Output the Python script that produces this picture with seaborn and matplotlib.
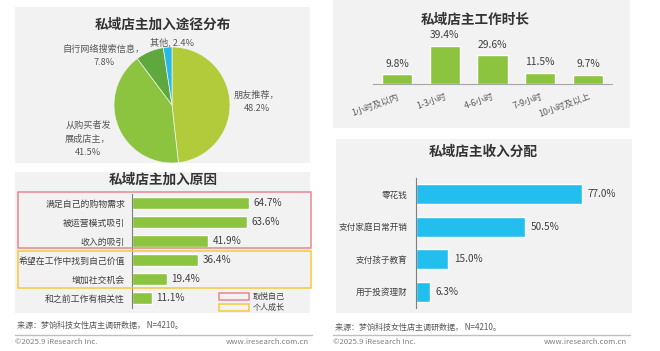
import numpy as np
import pandas as pd
import matplotlib
matplotlib.use("Agg")
import matplotlib.pyplot as plt
from matplotlib.patches import Rectangle
import seaborn as sns

# ---- data ----
channel_names = ["朋友推荐", "从购买者发展成店主", "自行网络搜索信息", "其他"]
channel_share = [48.2, 41.5, 7.8, 2.4]

reason_names = ["满足自己的购物需求", "被运营模式吸引", "收入的吸引",
                "希望在工作中找到自己价值", "增加社交机会", "和之前工作有相关性"]
reason_share = [64.7, 63.6, 41.9, 36.4, 19.4, 11.1]

hours_names = ["1小时及以内", "1-3小时", "4-6小时", "7-9小时", "10小时及以上"]
hours_share = [9.8, 39.4, 29.6, 11.5, 9.7]

income_names = ["零花钱", "支付家庭日常开销", "支付孩子教育", "用于投资理财"]
income_share = [77.0, 50.5, 15.0, 6.3]

source_text = "来源：梦饷科技女性店主调研数据， N=4210。"

# ---- style ----
sns.set_style("white")
plt.rcParams["font.family"] = ["Noto Sans CJK SC", "DejaVu Sans"]

W, H = 660, 351
GREY_BG = "#f2f2f2"
GREEN = "#8cc43f"
CYAN = "#22bfee"
PIE_COLORS = ["#b2cb3a", "#8cc43f", "#5ea83e", "#27b9e6"]
TXT = "#404040"
SUB = "#595959"


def box(x, y, w, h):
    return [x / W, 1 - (y + h) / H, w / W, h / H]


def ftext(x, y, s, **kw):
    kw.setdefault("va", "center")
    fig.text(x / W, 1 - y / H, s, **kw)


def panel(x, y, w, h):
    fig.add_artist(Rectangle((x / W, 1 - (y + h) / H), w / W, h / H,
                             transform=fig.transFigure, facecolor=GREY_BG,
                             edgecolor="none", zorder=-10))


def frame(x, y, w, h, color):
    fig.add_artist(Rectangle((x / W, 1 - (y + h) / H), w / W, h / H,
                             transform=fig.transFigure, facecolor="none",
                             edgecolor=color, linewidth=1.1, zorder=5))


fig = plt.figure(figsize=(W / 100, H / 100), dpi=100)
fig.patch.set_facecolor("white")

panel(15, 7, 295, 156)
panel(15, 172, 295, 141)
panel(333, 0, 297, 128)
panel(336, 139, 296, 174)

# ---- pie: 加入途径分布 ----
ftext(163, 25, "私域店主加入途径分布", ha="center", fontsize=9.8,
      fontweight="bold", color="#333333")
ax_pie = fig.add_axes(box(114, 47, 116, 116))
ax_pie.pie(channel_share, colors=PIE_COLORS, startangle=90, counterclock=False,
           wedgeprops=dict(linewidth=0.5, edgecolor="#f2f2f2"))
ax_pie.set_xlim(-1, 1)
ax_pie.set_ylim(-1, 1)
ax_pie.set_aspect("equal")

ftext(257, 102, f"{channel_names[0]}，\n{channel_share[0]}%", ha="center",
      fontsize=6.6, color=SUB, linespacing=1.6)
ftext(88, 139, f"从购买者发\n展成店主，\n{channel_share[1]}%", ha="center",
      fontsize=6.6, color=SUB, linespacing=1.6)
ftext(104, 56, f"{channel_names[2]}，\n{channel_share[2]}%", ha="center",
      fontsize=6.6, color=SUB, linespacing=1.6)
ftext(150, 42, f"{channel_names[3]}, {channel_share[3]}%", ha="left",
      fontsize=6.6, color=SUB)

# ---- 加入原因 ----
ftext(163, 180, "私域店主加入原因", ha="center", fontsize=9.8,
      fontweight="bold", color="#333333")
ax_r = fig.add_axes(box(132, 193.5, 181, 114))
df_r = pd.DataFrame({"reason": reason_names, "share": reason_share})
sns.barplot(data=df_r, x="share", y="reason", orient="h", color=GREEN,
            width=0.63, saturation=1, ax=ax_r)
ax_r.set_xlim(0, 100)
ax_r.set_ylim(len(reason_names) - 0.5, -0.5)
for i, v in enumerate(reason_share):
    ax_r.text(v + 2.5, i, f"{v}%", va="center", ha="left", fontsize=7.2, color=TXT)
ax_r.set_xlabel("")
ax_r.set_ylabel("")
ax_r.set_xticks([])
ax_r.tick_params(axis="y", length=0, pad=5, labelsize=6.4, labelcolor=TXT)
ax_r.patch.set_alpha(0)
for s in ["top", "right", "bottom"]:
    ax_r.spines[s].set_visible(False)
ax_r.spines["left"].set_color("#7f7f7f")
ax_r.spines["left"].set_linewidth(0.8)

frame(18, 192, 293, 56, "#e8868f")
frame(18, 251, 293, 37, "#f5c93a")
frame(219, 293, 30, 7, "#e8868f")
frame(219, 304, 30, 7, "#f5c93a")
ftext(253, 296.5, "取悦自己", ha="left", fontsize=5.8, color=TXT)
ftext(253, 307.5, "个人成长", ha="left", fontsize=5.8, color=TXT)

# ---- 工作时长 ----
ftext(475, 20, "私域店主工作时长", ha="center", fontsize=9.8,
      fontweight="bold", color="#333333")
ax_h = fig.add_axes(box(373, 33, 239, 51))
df_h = pd.DataFrame({"hours": hours_names, "share": hours_share})
sns.barplot(data=df_h, x="hours", y="share", color=GREEN, width=0.63,
            saturation=1, ax=ax_h)
ax_h.set_xlim(-0.5, len(hours_names) - 0.5)
ax_h.set_ylim(0, 52.5)
for i, v in enumerate(hours_share):
    ax_h.text(i, v + 5.5, f"{v}%", ha="center", va="bottom", fontsize=7.4, color=TXT)
ax_h.set_xlabel("")
ax_h.set_ylabel("")
ax_h.set_yticks([])
ax_h.tick_params(axis="x", length=0, pad=6, labelsize=6.4, labelcolor=SUB)
for lab in ax_h.get_xticklabels():
    lab.set_rotation(20)
    lab.set_ha("right")
    lab.set_rotation_mode("anchor")
ax_h.patch.set_alpha(0)
for s in ["top", "right", "left"]:
    ax_h.spines[s].set_visible(False)
ax_h.spines["bottom"].set_color("#a6a6a6")
ax_h.spines["bottom"].set_linewidth(0.8)

# ---- 收入分配 ----
ftext(483, 152, "私域店主收入分配", ha="center", fontsize=9.8,
      fontweight="bold", color="#333333")
ax_i = fig.add_axes(box(416, 178, 216, 130))
df_i = pd.DataFrame({"use": income_names, "share": income_share})
sns.barplot(data=df_i, x="share", y="use", orient="h", color=CYAN,
            width=0.61, saturation=1, ax=ax_i)
ax_i.set_xlim(0, 100)
ax_i.set_ylim(len(income_names) - 0.5, -0.5)
for i, v in enumerate(income_share):
    ax_i.text(v + 2.5, i, f"{v:.1f}%", va="center", ha="left", fontsize=7.2, color=TXT)
ax_i.set_xlabel("")
ax_i.set_ylabel("")
ax_i.set_xticks([])
ax_i.tick_params(axis="y", length=0, pad=6, labelsize=6.2, labelcolor=TXT)
ax_i.patch.set_alpha(0)
for s in ["top", "right", "bottom"]:
    ax_i.spines[s].set_visible(False)
ax_i.spines["left"].set_color("#7f7f7f")
ax_i.spines["left"].set_linewidth(0.8)

# ---- footers ----
for x0, x1, ys in [(15, 312, 325), (333, 630, 327)]:
    ftext(x0 + 2, ys, source_text, ha="left", fontsize=5.8, color=SUB)
    fig.add_artist(plt.Line2D([x0 / W, x1 / W], [1 - 335 / H, 1 - 335 / H],
                              transform=fig.transFigure, color="#bfbfbf", linewidth=1))
    ftext(x0, 342, "©2025.9 iResearch Inc.", ha="left", fontsize=5.6, color="#7f7f7f")
    ftext(x1 - 3, 342, "www.iresearch.com.cn", ha="right", fontsize=5.6, color="#7f7f7f")

fig.savefig("out.png", dpi=100)
